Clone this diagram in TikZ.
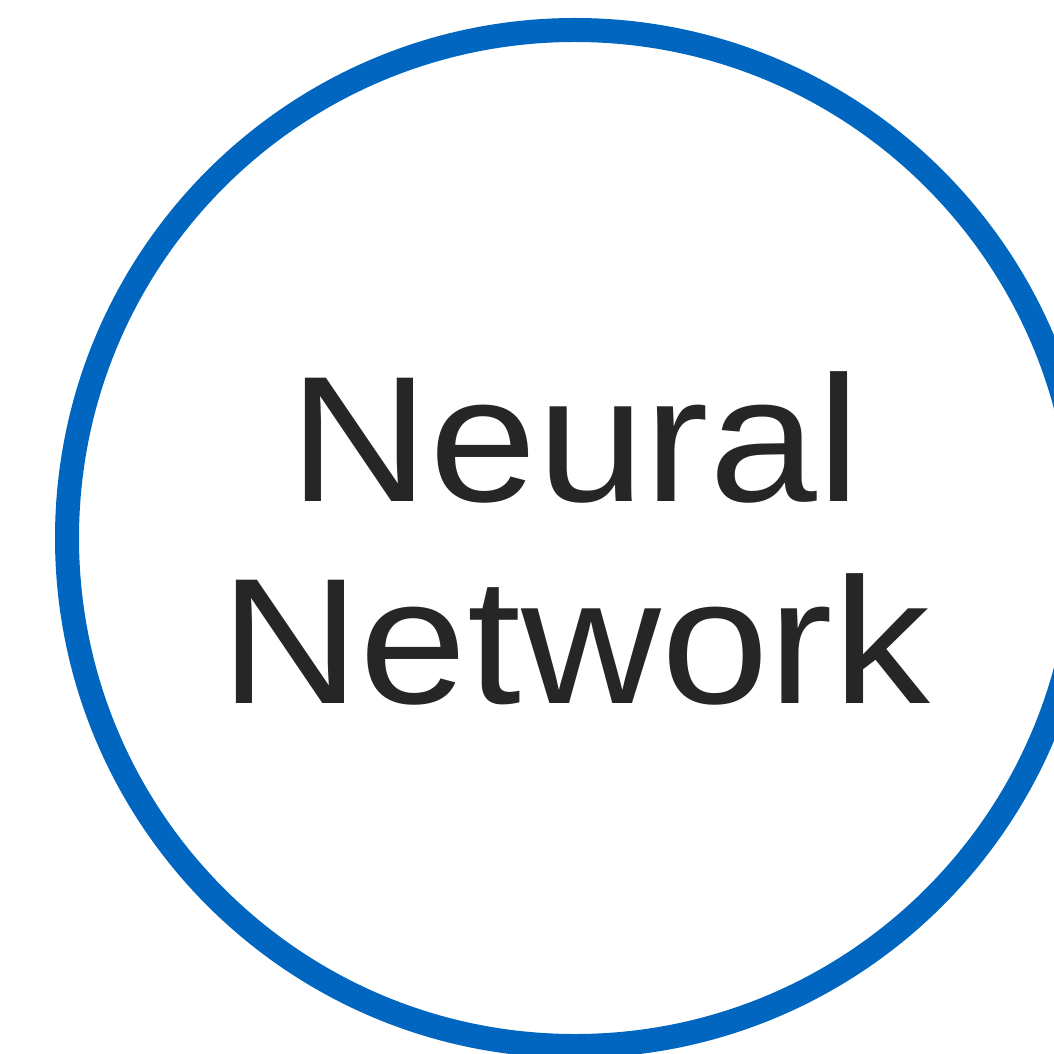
\documentclass[tikz,border=0pt]{standalone}
\usepackage{fontspec}
\setmainfont[FakeStretch=1.08]{Liberation Sans}
\usepackage{xcolor}
\usetikzlibrary{positioning}
\definecolor{ringcol}{HTML}{0066BF}
\definecolor{textcol}{HTML}{262626}
\tikzset{
  ring/.style={circle,draw=ringcol,line width=0.24cm,minimum size=10.16cm,inner sep=0pt,
    text=textcol,align=center,font=\fontsize{51}{57.5}\selectfont},
}
\begin{document}
\begin{tikzpicture}[x=1cm,y=1cm]
  \useasboundingbox (0,0) rectangle (10.54,10.53);
  % the single circle with its label
  \node[ring] (nn) at (5.75,5.15) {Neural\\Network};
\end{tikzpicture}
\end{document}
